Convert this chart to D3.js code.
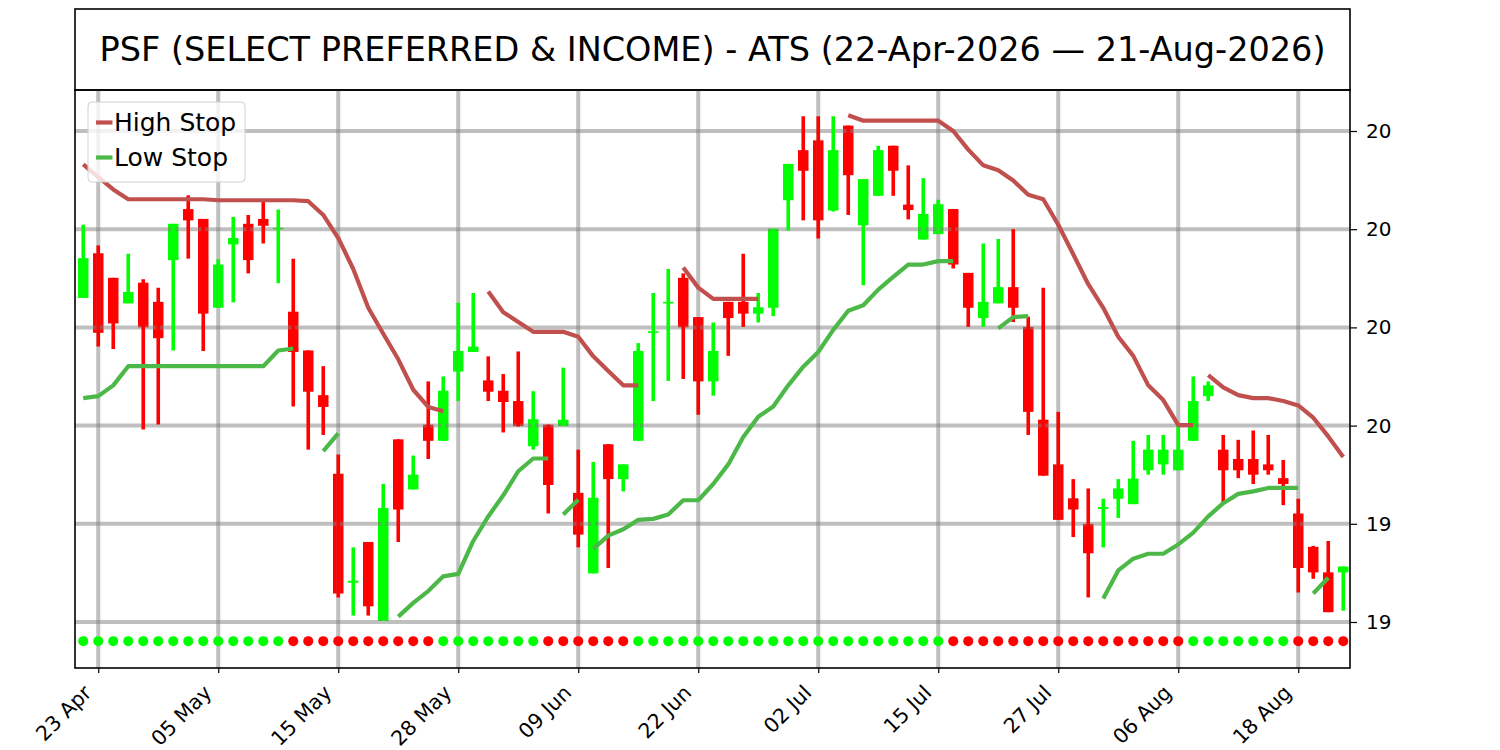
<!DOCTYPE html>
<html><head><meta charset="utf-8">
<script src="https://cdn.jsdelivr.net/npm/d3@7"></script>
<style>
body{margin:0;background:#fff}
svg{display:block}
text{font-family:"DejaVu Sans",sans-serif;fill:#000}
</style>
</head><body>
<svg id="chart" width="1500" height="750"></svg>
<script>
const titleText = "PSF (SELECT PREFERRED & INCOME) - ATS (22-Apr-2026 \u2014 21-Aug-2026)";

const dates = ["2026-04-22","2026-04-23","2026-04-24","2026-04-27","2026-04-28","2026-04-29","2026-04-30","2026-05-01","2026-05-04","2026-05-05","2026-05-06","2026-05-07","2026-05-08","2026-05-11","2026-05-12","2026-05-13","2026-05-14","2026-05-15","2026-05-18","2026-05-19","2026-05-20","2026-05-21","2026-05-22","2026-05-26","2026-05-27","2026-05-28","2026-05-29","2026-06-01","2026-06-02","2026-06-03","2026-06-04","2026-06-05","2026-06-08","2026-06-09","2026-06-10","2026-06-11","2026-06-12","2026-06-15","2026-06-16","2026-06-17","2026-06-18","2026-06-22","2026-06-23","2026-06-24","2026-06-25","2026-06-26","2026-06-29","2026-06-30","2026-07-01","2026-07-02","2026-07-06","2026-07-07","2026-07-08","2026-07-09","2026-07-10","2026-07-13","2026-07-14","2026-07-15","2026-07-16","2026-07-17","2026-07-20","2026-07-21","2026-07-22","2026-07-23","2026-07-24","2026-07-27","2026-07-28","2026-07-29","2026-07-30","2026-07-31","2026-08-03","2026-08-04","2026-08-05","2026-08-06","2026-08-07","2026-08-10","2026-08-11","2026-08-12","2026-08-13","2026-08-14","2026-08-17","2026-08-18","2026-08-19","2026-08-20","2026-08-21"];

const openP = [19.860,19.951,19.901,19.849,19.891,19.852,19.937,20.041,20.021,19.840,
19.969,20.011,20.021,20.000,19.832,19.753,19.662,19.502,19.280,19.363,
19.202,19.572,19.470,19.602,19.569,19.710,19.750,19.692,19.671,19.650,
19.558,19.602,19.599,19.463,19.299,19.562,19.491,19.569,19.789,19.849,
19.901,19.821,19.690,19.852,19.852,19.828,19.840,20.059,20.161,20.181,
20.038,20.211,20.008,20.068,20.170,20.050,19.979,19.990,20.041,19.911,
19.819,19.849,19.882,19.801,19.612,19.521,19.452,19.400,19.430,19.451,
19.440,19.509,19.521,19.509,19.569,19.660,19.551,19.532,19.532,19.521,
19.493,19.421,19.353,19.301,19.301];
const highP = [20.009,19.967,19.901,19.950,19.898,19.881,20.011,20.069,20.021,19.939,
20.025,20.029,20.060,20.040,19.940,19.753,19.721,19.541,19.352,19.363,
19.481,19.572,19.539,19.690,19.700,19.850,19.870,19.741,19.705,19.751,
19.670,19.602,19.718,19.551,19.526,19.562,19.521,19.768,19.870,19.919,
19.910,19.821,19.810,19.852,19.950,19.870,20.001,20.133,20.230,20.230,
20.230,20.211,20.102,20.170,20.170,20.130,20.104,20.060,20.041,19.911,
19.971,19.980,20.000,19.822,19.881,19.628,19.491,19.472,19.451,19.491,
19.569,19.581,19.581,19.601,19.700,19.690,19.581,19.571,19.590,19.581,
19.530,19.451,19.355,19.365,19.313];
const lowP = [19.860,19.761,19.756,19.849,19.592,19.602,19.753,19.940,19.752,19.840,
19.851,19.910,19.971,19.890,19.639,19.551,19.581,19.250,19.213,19.213,
19.202,19.363,19.470,19.532,19.569,19.650,19.750,19.650,19.586,19.598,
19.551,19.421,19.599,19.352,19.299,19.310,19.466,19.569,19.650,19.691,
19.695,19.622,19.661,19.742,19.801,19.810,19.823,19.997,20.018,19.981,
20.036,20.029,19.886,20.068,20.068,20.020,19.979,19.990,19.920,19.801,
19.801,19.849,19.811,19.581,19.498,19.408,19.373,19.250,19.352,19.412,
19.440,19.500,19.500,19.509,19.569,19.650,19.442,19.493,19.481,19.500,
19.438,19.260,19.288,19.220,19.223];
const closeP = [19.941,19.789,19.808,19.872,19.800,19.778,20.011,20.018,19.828,19.928,
19.982,19.937,20.007,20.003,19.750,19.669,19.638,19.258,19.284,19.232,
19.432,19.429,19.500,19.569,19.671,19.752,19.761,19.669,19.648,19.599,
19.613,19.479,19.612,19.378,19.453,19.491,19.521,19.752,19.792,19.852,
19.800,19.690,19.752,19.819,19.828,19.841,20.001,20.133,20.119,20.018,
20.161,20.110,20.102,20.161,20.119,20.039,20.031,20.051,19.928,19.840,
19.852,19.882,19.840,19.628,19.498,19.408,19.429,19.340,19.434,19.472,
19.492,19.551,19.551,19.551,19.650,19.682,19.509,19.509,19.500,19.509,
19.481,19.310,19.301,19.220,19.313];

const highStop = [20.132,20.106,20.081,20.061,20.061,20.061,20.061,20.061,20.061,20.059,
20.059,20.059,20.059,20.059,20.059,20.057,20.029,19.982,19.919,19.840,
19.787,19.735,19.673,19.638,19.629,null,null,19.873,19.831,19.811,
19.791,19.791,19.791,19.781,19.741,19.711,19.682,19.682,null,null,
19.922,19.881,19.858,19.858,19.858,19.858,null,null,null,null,
null,20.232,20.221,20.221,20.221,20.221,20.221,20.221,20.200,20.162,
20.130,20.120,20.099,20.070,20.061,20.009,19.949,19.888,19.840,19.781,
19.742,19.682,19.652,19.601,19.601,19.703,19.678,19.662,19.656,19.656,
19.650,19.641,19.616,19.578,19.536];
const highStopStarts = [0,27,40,51,75];

const lowStop = [19.656,19.660,19.682,19.721,19.721,19.721,19.721,19.721,19.721,19.721,
19.721,19.721,19.721,19.753,19.757,null,19.548,19.584,null,null,
null,19.211,19.239,19.263,19.293,19.298,19.365,19.415,19.458,19.507,
19.533,19.533,19.419,19.449,19.349,19.376,19.389,19.408,19.410,19.419,
19.448,19.448,19.481,19.521,19.577,19.618,19.639,19.682,19.720,19.750,
19.795,19.834,19.845,19.877,19.903,19.928,19.928,19.935,19.935,null,
null,19.798,19.821,19.823,null,null,null,null,19.248,19.305,
19.329,19.339,19.339,19.358,19.382,19.415,19.442,19.461,19.466,19.473,
19.473,19.473,19.258,19.290,null];
const lowStopStarts = [0,16,21,32,34,61,68,82];

const signals = ("GGGGGGGGGGGGGG" + "RRRRRRRRRR" + "GGGGGGG" + "RRRRRR" +
  "GGGGGGGGGGGGGGGGGGGGG" + "RRRRRRRRRRRRRRRR" + "GGGGGGG" + "RRRR").split("");
const signalLevel = 19.161;

const xTickIdx = [1,9,17,25,33,41,49,57,65,73,81];
const yTicks = [19.2,19.4,19.6,19.8,20.0,20.2];
const yTickLabels = ["19","19","20","20","20","20"];

const legendItems = [{label:"High Stop", color:"#c0504d"},{label:"Low Stop", color:"#4cb848"}];

// ---------- drawing ----------
const M = {left:75, right:1350, top:90, bottom:668};
const UP = "#00ff00", DOWN = "#ff0000";
const svg = d3.select("#chart");

const x = d3.scaleLinear().domain([-0.55, 84.45]).range([M.left, M.right]);
const y = d3.scaleLinear().domain([19.1063, 20.2835]).range([M.bottom, M.top]);
const parse = d3.timeParse("%Y-%m-%d");
const fmt = d3.timeFormat("%d %b");

// title box
svg.append("rect").attr("x", M.left).attr("y", 9).attr("width", M.right - M.left).attr("height", 90 - 9)
  .attr("fill", "#fff").attr("stroke", "#000").attr("stroke-width", 1.6);
svg.append("text").attr("x", (M.left + M.right) / 2).attr("y", 61).attr("text-anchor", "middle")
  .style("font-size", "33.5px").text(titleText);

const plot = svg.append("g");
const idx = d3.range(dates.length);

// candle bodies (below grid)
plot.append("g").selectAll("rect").data(idx).join("rect")
  .attr("x", i => x(i) - 5.25)
  .attr("width", 10.5)
  .attr("y", i => y(Math.max(openP[i], closeP[i])))
  .attr("height", i => Math.max(1.6, Math.abs(y(openP[i]) - y(closeP[i]))))
  .attr("fill", i => closeP[i] >= openP[i] ? UP : DOWN);

// grid
const grid = plot.append("g").attr("stroke", "#808080").attr("stroke-opacity", 0.5).attr("stroke-width", 4);
grid.selectAll("line.v").data(xTickIdx).join("line").attr("class", "v")
  .attr("x1", i => x(i)).attr("x2", i => x(i)).attr("y1", M.top).attr("y2", M.bottom);
grid.selectAll("line.h").data(yTicks).join("line").attr("class", "h")
  .attr("x1", M.left).attr("x2", M.right).attr("y1", d => y(d)).attr("y2", d => y(d));

// signal dots
plot.append("g").selectAll("circle").data(idx).join("circle")
  .attr("cx", i => x(i)).attr("cy", y(signalLevel)).attr("r", 5)
  .attr("fill", i => signals[i] === "G" ? UP : DOWN);

// wicks
plot.append("g").selectAll("line").data(idx).join("line")
  .attr("x1", i => x(i)).attr("x2", i => x(i))
  .attr("y1", i => y(highP[i])).attr("y2", i => y(lowP[i]))
  .attr("stroke", i => closeP[i] >= openP[i] ? UP : DOWN).attr("stroke-width", 3.6);

// stop lines
function segments(vals, starts) {
  return starts.map((s, k) => {
    const end = k + 1 < starts.length ? starts[k + 1] : vals.length;
    const seg = [];
    for (let i = s; i < end && vals[i] !== null; i++) seg.push(i);
    return seg;
  });
}
const lineGen = vals => d3.line().x(i => x(i)).y(i => y(vals[i]));
[[highStop, highStopStarts, legendItems[0].color], [lowStop, lowStopStarts, legendItems[1].color]].forEach(([vals, starts, col]) => {
  plot.append("g").selectAll("path").data(segments(vals, starts)).join("path")
    .attr("d", seg => lineGen(vals)(seg))
    .attr("fill", "none").attr("stroke", col).attr("stroke-width", 4.2)
    .attr("stroke-linejoin", "round").attr("stroke-linecap", "butt");
});

// frame
svg.append("rect").attr("x", M.left).attr("y", M.top).attr("width", M.right - M.left).attr("height", M.bottom - M.top)
  .attr("fill", "none").attr("stroke", "#000").attr("stroke-width", 1.6);

// x axis
const xAxis = svg.append("g").attr("transform", `translate(0,${M.bottom})`)
  .call(d3.axisBottom(x).tickValues(xTickIdx).tickSize(5).tickFormat(""));
xAxis.select(".domain").remove();
xAxis.selectAll(".tick line").attr("stroke", "#000").attr("stroke-width", 1.2);
svg.append("g").selectAll("text").data(xTickIdx).join("text")
  .attr("transform", i => `translate(${x(i) - 5.5},694) rotate(-45)`)
  .attr("text-anchor", "end").style("font-size", "20.5px")
  .text(i => fmt(parse(dates[i])));

// y axis (right)
const yAxis = svg.append("g").attr("transform", `translate(${M.right},0)`)
  .call(d3.axisRight(y).tickValues(yTicks).tickSize(7).tickPadding(9)
    .tickFormat((d, k) => yTickLabels[k]));
yAxis.select(".domain").remove();
yAxis.selectAll(".tick line").attr("stroke", "#000").attr("stroke-width", 1.2);
yAxis.selectAll(".tick text").style("font-size", "20px").attr("font-family", "DejaVu Sans").attr("fill", "#000");

// legend
const lg = svg.append("g").attr("transform", "translate(88,102)");
lg.append("rect").attr("width", 157).attr("height", 80).attr("rx", 4)
  .attr("fill", "#fff").attr("fill-opacity", 0.8).attr("stroke", "#d0d0d0").attr("stroke-width", 1);
legendItems.forEach((d, k) => {
  const cy = 20.5 + k * 35;
  lg.append("line").attr("x1", 8).attr("x2", 24.5).attr("y1", cy).attr("y2", cy)
    .attr("stroke", d.color).attr("stroke-width", 4.2);
  lg.append("text").attr("x", 26).attr("y", cy + 8.9).style("font-size", "25px").text(d.label);
});
</script>
</body></html>
